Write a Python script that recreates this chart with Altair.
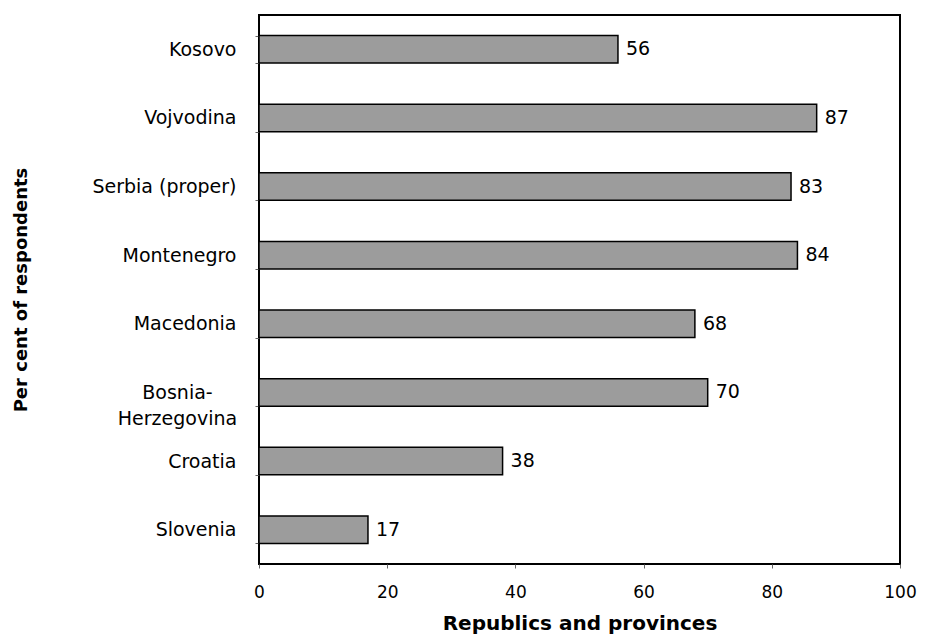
import altair as alt
import pandas as pd

categories = ["Kosovo", "Vojvodina", "Serbia (proper)", "Montenegro",
              "Macedonia", "Bosnia-Herzegovina", "Croatia", "Slovenia"]
values = [56, 87, 83, 84, 68, 70, 38, 17]
x_ticks = [0, 20, 40, 60, 80, 100]

df = pd.DataFrame({"region": categories, "pct": values})

FONT = "DejaVu Sans"
is_bh = "datum.value == 'Bosnia-Herzegovina'"

y_enc = alt.Y(
    "region:N", sort=categories,
    scale=alt.Scale(paddingInner=0.6, paddingOuter=0.3),
    axis=alt.Axis(
        title="Per cent of respondents",
        titleFont=FONT, titleFontSize=18, titleFontWeight="bold", titleColor="black",
        titleAngle=-90, titleX=-238, titleY=274.5, titleAlign="center", titleBaseline="middle",
        labelFont=FONT, labelFontSize=19, labelColor="black",
        labelExpr=f"{is_bh} ? ['Bosnia-', 'Herzegovina'] : datum.label",
        labelAlign={"condition": {"test": is_bh, "value": "center"}, "value": "right"},
        labelPadding={"condition": {"test": is_bh, "value": 78}, "value": 19},
        labelLineHeight=26, labelBaseline="middle",
        tickBand="extent", tickSize=4, tickColor="#666", tickWidth=1,
        domain=False, grid=False,
    ),
)

x_enc = alt.X(
    "pct:Q",
    scale=alt.Scale(domain=[0, 100], nice=False),
    axis=alt.Axis(
        title="Republics and provinces", values=x_ticks,
        titleFont=FONT, titleFontSize=20, titleFontWeight="bold", titleColor="black",
        titleY=59, titleBaseline="middle",
        labelFont=FONT, labelFontSize=17, labelColor="black", labelFlush=False,
        labelPadding=16, tickSize=4, tickColor="#666", tickWidth=1,
        domain=False, grid=False,
    ),
)

bars = alt.Chart(df).mark_bar(
    fill="#9c9c9c", stroke="black", strokeWidth=1.5
).encode(x=x_enc, y=y_enc)

labels = alt.Chart(df).mark_text(
    align="left", baseline="middle", dx=8, font=FONT, fontSize=19, color="black"
).encode(
    x=alt.X("pct:Q"),
    y=alt.Y("region:N", sort=categories),
    text=alt.Text("pct:Q"),
)

chart = alt.layer(bars, labels).properties(
    width=641, height=549,
    autosize=alt.AutoSizeParams(type="none"),
    padding={"left": 251, "top": 7, "right": 17, "bottom": 75},
).configure(
    background="white"
).configure_view(
    stroke="black", strokeWidth=2
)

chart.save("out.html", embed_options={"renderer": "svg", "actions": False})
